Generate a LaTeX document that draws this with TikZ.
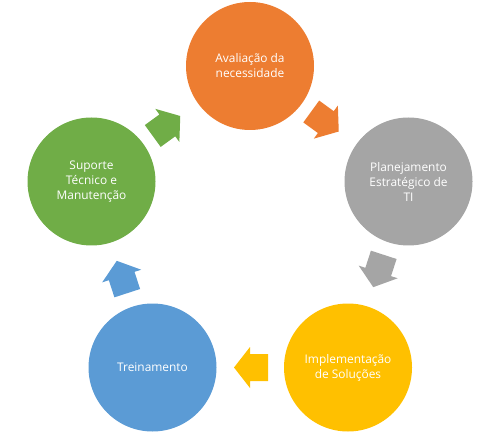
\documentclass[tikz,border=0pt]{standalone}
\usepackage{fontspec}
\setmainfont{Open Sans}
\definecolor{cOrange}{HTML}{ED7D31}
\definecolor{cGray}{HTML}{A5A5A5}
\definecolor{cYellow}{HTML}{FFC000}
\definecolor{cBlue}{HTML}{5B9BD5}
\definecolor{cGreen}{HTML}{70AD47}
\tikzset{
  stage/.style={circle, minimum size=128pt, inner sep=0pt, text=white, align=center,
    font=\fontsize{11.9}{15}\selectfont},
  blockarrow/.pic={
    \fill (-17,-13.5) -- (1,-13.5) -- (1,-20.5) -- (17,0) -- (1,20.5) -- (1,13.5) -- (-17,13.5) -- cycle;
  }
}
\begin{document}
\begin{tikzpicture}[x=1pt,y=1pt]
\useasboundingbox (0,0) rectangle (500,434);
\node[stage, fill=cOrange] (aval) at (250,368) {Avaliação da\\necessidade};
\node[stage, fill=cGray] (plan) at (408.5,252.5) {Planejamento\\Estratégico de\\TI};
\node[stage, fill=cYellow] (impl) at (348,66.5) {Implementação\\de Soluções};
\node[stage, fill=cBlue] (trei) at (152.5,66.5) {Treinamento};
\node[stage, fill=cGreen] (supo) at (91.5,252.5) {Suporte\\Técnico e\\Manutenção};
\coordinate (a1) at (325,312.5);
\coordinate (a2) at (378.5,163);
\coordinate (a3) at (251,66.5);
\coordinate (a4) at (122,157);
\coordinate (a5) at (166.5,308);
\pic[fill=cOrange, rotate=-36] at (a1) {blockarrow};
\pic[fill=cGray, rotate=-108] at (a2) {blockarrow};
\pic[fill=cYellow, rotate=180] at (a3) {blockarrow};
\pic[fill=cBlue, rotate=108] at (a4) {blockarrow};
\pic[fill=cGreen, rotate=36] at (a5) {blockarrow};
\end{tikzpicture}
\end{document}
